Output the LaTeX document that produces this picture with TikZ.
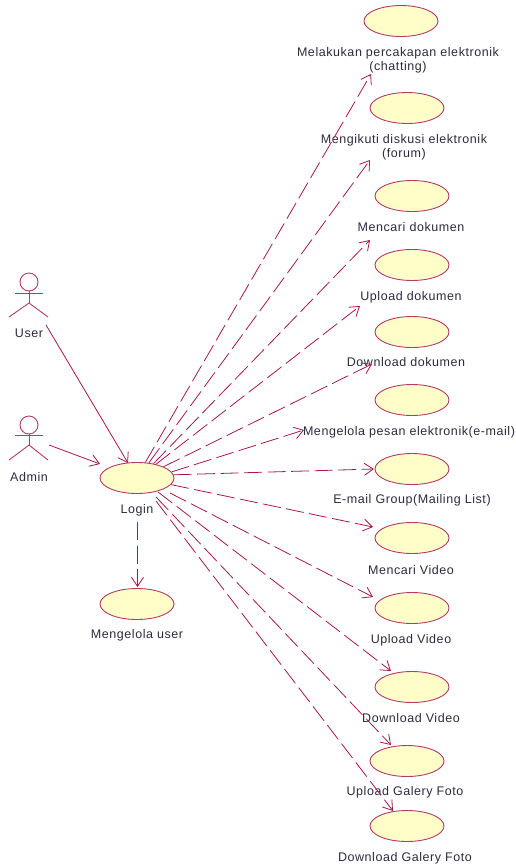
\documentclass[tikz,border=0pt]{standalone}
\usepackage{fontspec}
\setmainfont[LetterSpace=4.5]{Liberation Sans}
\usetikzlibrary{arrows.meta,shapes.geometric}
\definecolor{umlline}{HTML}{A5194F}
\definecolor{umlfill}{HTML}{FFFDC8}
\definecolor{umltext}{HTML}{2B2B3F}
\tikzstyle{usecase}=[ellipse,draw=umlline!85,fill=umlfill,line width=0.9,minimum width=74,minimum height=31,inner sep=0pt]
\tikzstyle{caption}=[inner sep=0pt,yshift=-1pt,text=umltext,font=\fontsize{12.5}{14}\selectfont,align=center]
\tikzstyle{head}=[circle,draw=umlline!85,line width=0.9,minimum size=18,inner sep=0pt]
\tikzstyle{limb}=[draw=umlline!85,line width=0.9]
\tikzstyle{arrow}=[-{Straight Barb[length=9,width=12]},draw=umlline,line width=0.8]
\tikzstyle{dasharrow}=[arrow,dash pattern=on 18 off 5.5]

\begin{document}
\begin{tikzpicture}[x=1pt,y=-1pt]
 \useasboundingbox (0,0) rectangle (515,865);
 \node [style=usecase] (0) at (401, 21) {};
 \node [style=usecase] (1) at (407, 108) {};
 \node [style=usecase] (2) at (412, 196) {};
 \node [style=usecase] (3) at (412, 265) {};
 \node [style=usecase] (4) at (412, 332) {};
 \node [style=usecase] (5) at (412, 400) {};
 \node [style=usecase] (6) at (412, 469) {};
 \node [style=usecase] (7) at (412, 538) {};
 \node [style=usecase] (8) at (412, 608) {};
 \node [style=usecase] (9) at (412, 687) {};
 \node [style=usecase] (10) at (407, 761) {};
 \node [style=usecase] (11) at (407, 826) {};
 \node [style=usecase] (12) at (137, 478) {};
 \node [style=usecase] (13) at (137, 604) {};
 \node [style=caption] (14) at (398, 59) {Melakukan percakapan elektronik\\(chatting)};
 \node [style=caption] (15) at (404, 146) {Mengikuti diskusi elektronik\\(forum)};
 \node [style=caption] (16) at (411, 226) {Mencari dokumen};
 \node [style=caption] (17) at (411, 296) {Upload dokumen};
 \node [style=caption] (18) at (406, 361) {Download dokumen};
 \node [style=caption] (19) at (409, 431) {Mengelola pesan elektronik(e-mail)};
 \node [style=caption] (20) at (412, 499) {E-mail Group(Mailing List)};
 \node [style=caption] (21) at (411, 569) {Mencari Video};
 \node [style=caption] (22) at (411, 639) {Upload Video};
 \node [style=caption] (23) at (411, 717) {Download Video};
 \node [style=caption] (24) at (405, 791) {Upload Galery Foto};
 \node [style=caption] (25) at (405, 857) {Download Galery Foto};
 \node [style=caption] (26) at (137, 509) {Login};
 \node [style=caption] (27) at (137, 634) {Mengelola user};
 \node [style=caption] (28) at (29, 332) {User};
 \node [style=caption] (29) at (29, 476) {Admin};
 % User
 \node [style=head] (30) at (29, 282) {};
 \coordinate (31) at (15, 293);
 \coordinate (32) at (43, 293);
 \coordinate (33) at (29, 303);
 \coordinate (34) at (9, 317);
 \coordinate (35) at (48, 317);
 \draw [style=limb] (30.south) to (33);
 \draw [style=limb] (31) to (32);
 \draw [style=limb] (34) to (33);
 \draw [style=limb] (33) to (35);
 % Admin
 \node [style=head] (36) at (29, 425) {};
 \coordinate (37) at (15, 435);
 \coordinate (38) at (43, 435);
 \coordinate (39) at (29, 445);
 \coordinate (40) at (9, 460);
 \coordinate (41) at (48, 460);
 \draw [style=limb] (36.south) to (39);
 \draw [style=limb] (37) to (38);
 \draw [style=limb] (40) to (39);
 \draw [style=limb] (39) to (41);
 % arrow ends
 \coordinate (42) at (46, 325);
 \coordinate (43) at (49, 445);
 \coordinate (44) at (128, 463);
 \coordinate (45) at (100, 464);
 \coordinate (46) at (170, 493);
 \coordinate (47) at (158, 492);
 \coordinate (48) at (156, 497);
 \coordinate (49) at (156, 501);
 \coordinate (50) at (371, 74);
 \coordinate (51) at (370, 160);
 \coordinate (52) at (370, 240);
 \coordinate (53) at (360, 306);
 \coordinate (54) at (372, 364);
 \coordinate (55) at (304, 430);
 \coordinate (56) at (374, 469);
 \coordinate (57) at (373, 527);
 \coordinate (58) at (373, 597);
 \coordinate (59) at (391, 671);
 \coordinate (60) at (391, 745);
 \coordinate (61) at (393, 811);
 \coordinate (62) at (137.5, 522);
 \coordinate (63) at (137.5, 587);
 \draw [style=arrow] (42) to (44);
 \draw [style=arrow] (43) to (45);
 \draw [style=dasharrow] (12.62) to (50);
 \draw [style=dasharrow] (12.52) to (51);
 \draw [style=dasharrow] (12.41) to (52);
 \draw [style=dasharrow] (12.36) to (53);
 \draw [style=dasharrow] (12.23) to (54);
 \draw [style=dasharrow] (12.10) to (55);
 \draw [style=dasharrow] (12.5) to (56);
 \draw [style=dasharrow] (12.-11) to (57);
 \draw [style=dasharrow] (46) to (58);
 \draw [style=dasharrow] (47) to (59);
 \draw [style=dasharrow] (48) to (60);
 \draw [style=dasharrow] (49) to (61);
 \draw [style=dasharrow] (62) to (63);
\end{tikzpicture}
\end{document}
